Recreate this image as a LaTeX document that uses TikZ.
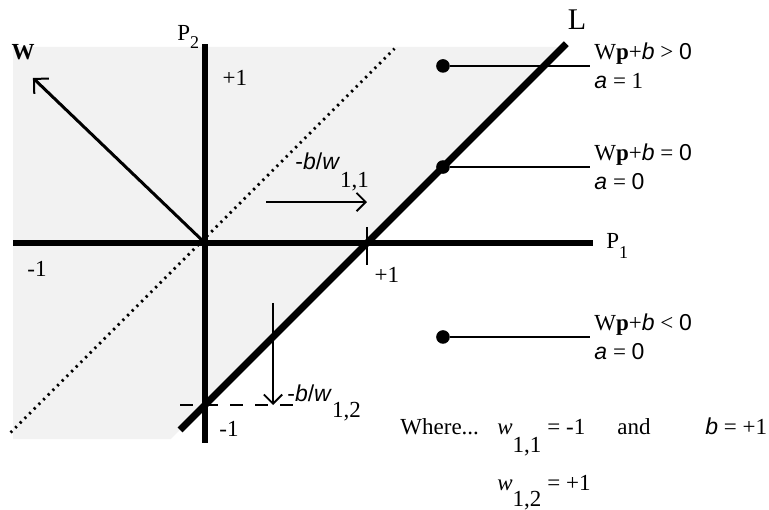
\documentclass[tikz,border=0pt]{standalone}
\usepackage{fontspec}
\setmainfont{Liberation Serif}
\setsansfont{Liberation Sans}
\usepackage{tikz}
\usetikzlibrary{arrows.meta}
\usetikzlibrary{positioning}
\newcommand{\sv}[1]{{\sffamily\itshape #1}}

\begin{document}
\begin{tikzpicture}[x=81pt, y=81pt, font=\fontsize{11.5}{14.5}\selectfont,
    axis/.style={line width=2.6pt},
    barb/.style={line width=0.7pt, -{Straight Barb[angle=90:6.5pt, line width=0.9pt]}},
    dotmark/.style={circle, fill=black, inner sep=0pt, minimum size=6.8pt},
    cond/.style={anchor=west, align=left, inner sep=2pt},
    txt/.style={anchor=base west, inner sep=0pt}]
    \useasboundingbox (-1.2654,-1.642) rectangle (3.4815,1.5);
    % shaded side of the boundary
    \fill[black!5] (-1.185,1.21) -- (2.21,1.21) -- (-0.21,-1.21) -- (-1.185,-1.21) -- cycle;
    \draw[line width=1.4pt, dash pattern=on 1.1pt off 2.2pt] (-1.2,-1.17) -- (1.17,1.2);
    % axes
    \coordinate (O) at (0,0);
    \draw[axis] (-1.185,0) -- (2.395,0);
    \draw[axis] (0,1.228) -- (0,-1.235);
    \draw[line width=0.8pt] (1,0.099) -- (1,-0.136);
    \draw[line width=0.7pt, dash pattern=on 6.5pt off 6pt] (-0.154,-1) -- (0.568,-1);
    \node[txt] (P2lab) at (-0.173,1.253) {P\raisebox{-4pt}{\small 2}};
    \node[txt] (P1lab) at (2.475,-0.031) {P\raisebox{-5pt}{\small 1}};
    \node (ytop) at (0.185,1.019) {+1};
    \node (xleft) at (-1.037,-0.160) {-1};
    \node (xright) at (1.123,-0.198) {+1};
    \node (ybot) at (0.148,-1.148) {-1};
    % decision boundary L
    \coordinate (Lbot) at (-0.154,-1.154);
    \coordinate (Ltop) at (2.23,1.23);
    \draw[line width=3.4pt] (Lbot) -- (Ltop);
    \node (Llab) at (2.296,1.377) {\fontsize{15}{15}\selectfont L};
    % weight vector
    \coordinate (Wtip) at (-1.062,1.019);
    \draw[line width=1.5pt, -{Straight Barb[angle=90:7.5pt, line width=1pt]}] (O) -- (Wtip);
    \node (Wlab) at (-1.123,1.179) {\textbf{W}};
    % intercepts
    \coordinate (a11) at (0.377,0.253);
    \coordinate (b11) at (1,0.253);
    \draw[barb] (a11) -- (b11);
    \node[txt] (int11) at (0.556,0.451) {{\sffamily -\textit{b}/\textit{w}}\raisebox{-9pt}{1,1}};
    \coordinate (a12) at (0.42,-0.37);
    \coordinate (b12) at (0.42,-1);
    \draw[barb] (a12) -- (b12);
    \node[txt] (int12) at (0.506,-0.981) {{\sffamily -\textit{b}/\textit{w}}\raisebox{-8pt}{1,2}};
    % sample points
    \node[dotmark] (d1) at (1.469,1.093) {};
    \node[dotmark] (d2) at (1.469,0.469) {};
    \node[dotmark] (d3) at (1.469,-0.580) {};
    \node[cond] (c1) at (2.377,1.093) {W\textbf{p}+\sv{b} > \textsf{0}\\\sv{a} = 1};
    \node[cond] (c2) at (2.377,0.469) {W\textbf{p}+\sv{b} = \textsf{0}\\\sv{a} = \textsf{0}};
    \node[cond] (c3) at (2.377,-0.580) {W\textbf{p}+\sv{b} < \textsf{0}\\\sv{a} = \textsf{0}};
    \draw[line width=0.8pt] (d1) -- (d1 -| c1.west);
    \draw[line width=0.8pt] (d2) -- (d2 -| c2.west);
    \draw[line width=0.8pt] (d3) -- (d3 -| c3.west);
    % values
    \node[txt] (where) at (1.204,-1.185) {Where...};
    \node[txt] (w11) at (1.802,-1.185) {\textit{w}\raisebox{-9pt}{1,1}\hspace{3pt}= -1};
    \node[txt] (andw) at (2.543,-1.185) {and};
    \node[txt] (bval) at (3.086,-1.185) {\sv{b} = +1};
    \node[txt] (w12) at (1.802,-1.525) {\textit{w}\raisebox{-8pt}{1,2}\hspace{3pt}= +1};
\end{tikzpicture}
\end{document}
